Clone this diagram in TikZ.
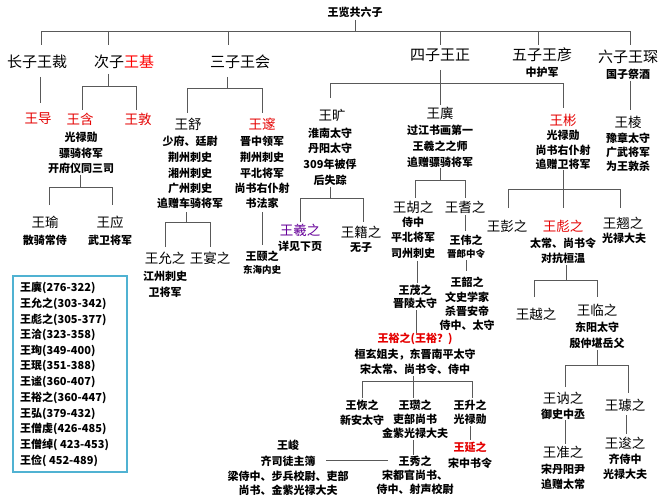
\documentclass[tikz,border=0pt]{standalone}
\usepackage{fontspec}
\setmainfont{Noto Sans CJK SC}
\definecolor{boxc}{RGB}{80,178,210}
\begin{document}
\begin{tikzpicture}[x=1pt,y=-1pt,
 big/.style={font=\fontsize{15}{16}\selectfont,inner sep=0},
 nm/.style={font=\fontsize{13.5}{14}\selectfont,inner sep=0},
 sm/.style={font=\fontsize{11}{12}\selectfont\bfseries,inner sep=0},
 xs/.style={font=\fontsize{9.5}{10}\selectfont\bfseries,inner sep=0},
 red/.style={text=red!90!black},
 pur/.style={text=violet!80!blue},
 ln/.style={draw=black!65,line width=0.8pt}]
\newcommand\tx[4]{\node[#1] at (#2,#3) {#4};}
\useasboundingbox[fill=white] (0,0) rectangle (667,500);
% top
\tx{sm}{355}{12}{王览共六子}
\draw[ln] (355,20)--(355,31);
\draw[ln] (41,45)--(41,31)--(630,31)--(630,45);
\foreach \x in {108,228,440,538} \draw[ln] (\x,31)--(\x,45);
\tx{big}{37}{62}{长子王裁}
\node[big] at (124,62) {次子\textcolor{red}{王基}};
\tx{big}{240}{62}{三子王会}
\tx{big}{440}{55}{四子王正}
\tx{big}{542}{55}{五子王彦}
\tx{sm}{542}{72}{中护军}
\tx{big}{628}{57}{六子王琛}
\tx{sm}{628}{74}{国子祭酒}
% eldest
\draw[ln] (40,77)--(40,103);
\tx{nm,red}{38}{119}{王导}
% second
\draw[ln] (108,74)--(108,86); \draw[ln] (82,110)--(82,86)--(136,86)--(136,110);
\tx{nm,red}{80}{119}{王含}
\tx{nm,red}{138}{119}{王敦}
\tx{sm}{81}{137}{光禄勋}
\tx{sm}{81}{153}{骠骑将军}
\tx{sm}{81}{168}{开府仪同三司}
\draw[ln] (80,175)--(80,187); \draw[ln] (49,205)--(49,187)--(112,187)--(112,205);
\tx{nm}{45}{222}{王瑜}\tx{sm}{45}{240}{散骑常侍}
\tx{nm}{110}{222}{王应}\tx{sm}{110}{240}{武卫将军}
% third
\draw[ln] (227,77)--(227,88); \draw[ln] (187,113)--(187,88)--(262,88)--(262,113);
\tx{nm}{188}{124}{王舒}
\tx{sm}{190}{141}{少府、廷尉}\tx{sm}{190}{157}{荆州刺史}\tx{sm}{190}{173}{湘州刺史}\tx{sm}{190}{188}{广州刺史}\tx{sm}{190}{203}{追赠车骑将军}
\tx{nm,red}{262}{124}{王邃}
\tx{sm}{262}{141}{晋中领军}\tx{sm}{262}{157}{荆州刺史}\tx{sm}{262}{173}{平北将军}\tx{sm}{262}{188}{尚书右仆射}\tx{sm}{262}{203}{书法家}
\draw[ln] (186,212)--(186,222); \draw[ln] (165,247)--(165,222)--(210,222)--(210,247);
\tx{nm}{165}{258}{王允之}\tx{sm}{165}{276}{江州刺史}\tx{sm}{165}{292}{卫将军}
\tx{nm}{210}{258}{王宴之}
\draw[ln] (262,212)--(262,245);
\tx{sm}{262}{256}{王颐之}\tx{xs}{262}{270}{东海内史}
% fourth
\draw[ln] (440,70)--(440,105); \draw[ln] (330,98)--(330,83)--(563,83)--(563,108);
\tx{nm}{332}{115}{王旷}
\tx{sm}{330}{133}{淮南太守}\tx{sm}{330}{148}{丹阳太守}\tx{sm}{330}{164}{309年被俘}\tx{sm}{330}{180}{后失踪}
\draw[ln] (330,187)--(330,198); \draw[ln] (300,222)--(300,198)--(363,198)--(363,222);
\tx{nm,pur}{300}{230}{王羲之}\tx{sm}{300}{246}{详见下页}
\tx{nm}{361}{232}{王籍之}\tx{sm}{361}{248}{无子}
\tx{nm}{440}{113}{王廙}
\tx{sm}{440}{130}{过江书画第一}\tx{sm}{440}{146}{王羲之之师}\tx{sm}{440}{162}{追赠骠骑将军}
\draw[ln] (440,168)--(440,180); \draw[ln] (415,198)--(415,180)--(465,180)--(465,198);
\tx{nm}{413}{207}{王胡之}\tx{sm}{413}{222}{侍中}\tx{sm}{413}{237}{平北将军}\tx{sm}{413}{253}{司州刺史}
\tx{nm}{465}{207}{王耆之}
\draw[ln] (465,215)--(465,231);
\tx{sm}{466}{240}{王伟之}\tx{xs}{466}{254}{晋郎中令}
\draw[ln] (466,260)--(466,271);
\tx{sm}{467}{282}{王韶之}\tx{sm}{467}{297}{文史学家}\tx{sm}{467}{311}{杀晋安帝}\tx{sm}{467}{325}{侍中、太守}
\draw[ln] (417,261)--(417,283);
\tx{sm}{415}{290}{王茂之}\tx{sm}{415}{303}{晋陵太守}
\draw[ln] (416,310)--(416,333);
\tx{sm,red}{415}{339}{王裕之(王裕？)}
\tx{sm}{415}{355}{桓玄姐夫，东晋南平太守}\tx{sm}{415}{369}{宋太常、尚书令、侍中}
\draw[ln] (413,376)--(413,398); \draw[ln] (362,398)--(362,381)--(472,381)--(472,398);
\tx{sm}{362}{405}{王恢之}\tx{sm}{362}{420}{新安太守}
\tx{sm}{415}{405}{王瓒之}\tx{sm}{415}{419}{吏部尚书}\tx{sm}{415}{433}{金紫光禄大夫}
\tx{sm}{470}{405}{王升之}\tx{sm}{470}{419}{光禄勋}
\draw[ln] (470,426)--(470,440);
\tx{sm,red}{470}{447}{王延之}\tx{sm}{470}{463}{宋中书令}
\draw[ln] (413,440)--(413,455);
\tx{sm}{415}{461}{王秀之}\tx{sm}{415}{475}{宋都官尚书、}\tx{sm}{415}{489}{侍中、射声校尉}
\tx{sm}{288}{445}{王峻}\tx{sm}{288}{461}{齐司徒主簿}\tx{sm}{288}{476}{梁侍中、步兵校尉、吏部}\tx{sm}{288}{490}{尚书、金紫光禄大夫}
\draw[ln] (326,460)--(388,460);
% Wang Bin
\tx{nm,red}{563}{120}{王彬}
\tx{sm}{563}{135}{光禄勋}\tx{sm}{563}{150}{尚书右仆射}\tx{sm}{563}{164}{追赠卫将军}
\draw[ln] (563,170)--(563,208); \draw[ln] (508,208)--(508,189)--(620,189)--(620,208);
\tx{nm}{507}{226}{王彭之}
\tx{nm,red}{563}{226}{王彪之}\tx{sm}{563}{243}{太常、尚书令}\tx{sm}{563}{258}{对抗桓温}
\tx{nm}{623}{223}{王翘之}\tx{sm}{624}{238}{光禄大夫}
\draw[ln] (566,265)--(566,280); \draw[ln] (534,297)--(534,280)--(597,280)--(597,297);
\tx{nm}{536}{314}{王越之}
\tx{nm}{597}{310}{王临之}\tx{sm}{597}{327}{东阳太守}\tx{sm}{597}{343}{殷仲堪岳父}
\draw[ln] (597,350)--(597,365); \draw[ln] (565,387)--(565,365)--(628,365)--(628,393);
\tx{nm}{563}{398}{王讷之}\tx{sm}{563}{414}{御史中丞}
\tx{nm}{625}{405}{王璩之}
\draw[ln] (565,420)--(565,444); \draw[ln] (626,415)--(626,434);
\tx{nm}{563}{452}{王准之}\tx{sm}{563}{469}{宋丹阳尹}\tx{sm}{563}{484}{追赠太常}
\tx{nm}{625}{443}{王逡之}\tx{sm}{625}{459}{齐侍中}\tx{sm}{625}{474}{光禄大夫}
% sixth
\draw[ln] (630,81)--(630,110);
\tx{nm}{628}{122}{王棱}
\tx{sm}{628}{138}{豫章太守}\tx{sm}{628}{152}{广武将军}\tx{sm}{628}{166}{为王敦杀}
% box
\draw[draw=boxc,line width=1.3pt] (13,276) rectangle (127,472);
\foreach \t [count=\i from 0] in {王廙(276-322),王允之(303-342),王彪之(305-377),王洽(323-358),王珣(349-400),王珉(351-388),王谧(360-407),王裕之(360-447),王弘(379-432),王僧虔(426-485),王僧绰( 423-453),王俭( 452-489)}
  \node[sm,anchor=west] at (20,288+15.7*\i) {\t};
\end{tikzpicture}
\end{document}
